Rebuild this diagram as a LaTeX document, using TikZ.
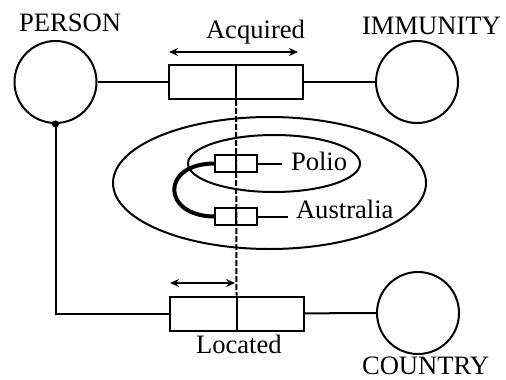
\documentclass[tikz,border=0pt]{standalone}
\usepackage{fontspec}
\setmainfont{Liberation Serif}
\usetikzlibrary{calc}
\usetikzlibrary{arrows.meta}

\begin{document}
\begin{tikzpicture}[%
  >={Stealth[length=4.5pt,width=4pt]},
  x=0.5pt, y=-0.5pt,
  line width=1pt,
  entity/.style={draw, circle, minimum size=41pt, inner sep=0pt},
  relbox/.style={draw, rectangle, minimum width=67pt, minimum height=17pt, inner sep=0pt},
  valbox/.style={draw, rectangle, minimum width=21pt, minimum height=8.5pt, inner sep=0pt},
  lbl/.style={font=\fontsize{13.3}{16}\selectfont, inner sep=0pt, anchor=base west},
  link/.style={dash pattern=on 3pt off 1pt}
]

  \useasboundingbox (0,0) rectangle (506,379);

  % entities
  \node[entity] (person) at (55.5,82) {};
  \node[entity] (immunity) at (417,82) {};
  \node[entity] (country) at (418,313) {};

  \node[lbl] (personlbl) at (18,32) {PERSON};
  \node[lbl] (immunitylbl) at (361,35) {IMMUNITY};
  \node[lbl] (countrylbl) at (361,374) {COUNTRY};

  % relations
  \node[relbox] (acq) at (236,82) {};
  \node[relbox] (loc) at (236.5,313.5) {};

  \node[lbl] (acqlbl) at (205,39) {Acquired};
  \node[lbl] (loclbl) at (195,353) {Located};

  \draw (person) -- (acq);
  \draw (acq) -- (immunity);
  \draw (loc) -- (country);

  \fill (person.south) circle (1.8pt);
  \draw (person.south) -- (person.south |- loc.west) -- (loc.west);

  % direction arrows
  \coordinate (acqL) at (169,52);
  \coordinate (acqR) at (298,52);
  \coordinate (locL) at (170,283);
  \coordinate (locR) at (235,283);
  \draw[<->] (acqL) -- (acqR);
  \draw[<->] (locL) -- (locR);

  % ellipses of instances
  \draw (269.5,183) ellipse [x radius=156.5, y radius=66];
  \draw (274,163.5) ellipse [x radius=86, y radius=28.5];

  % instance boxes
  \node[valbox] (polio) at (236,163.5) {};
  \node[valbox] (austr) at (236,216.5) {};

  \node[lbl] (poliolbl) at (290,170) {Polio};
  \node[lbl] (austrlbl) at (295,218) {Australia};

  \coordinate (polioE) at (282,163.5);
  \coordinate (austrE) at (288,216.5);
  \draw (polio.east) -- (polioE);
  \draw (austr.east) -- (austrE);

  \draw[line width=2pt] (polio.west) .. controls (160,164) and (162,216) .. (austr.west);

  % dividers
  \draw (acq.north) -- (acq.south);
  \draw (loc.north) -- (loc.south);
  \draw (polio.north) -- (polio.south);
  \draw (austr.north) -- (austr.south);
  \draw[link] (acq.south) -- (loc.north);

\end{tikzpicture}
\end{document}
